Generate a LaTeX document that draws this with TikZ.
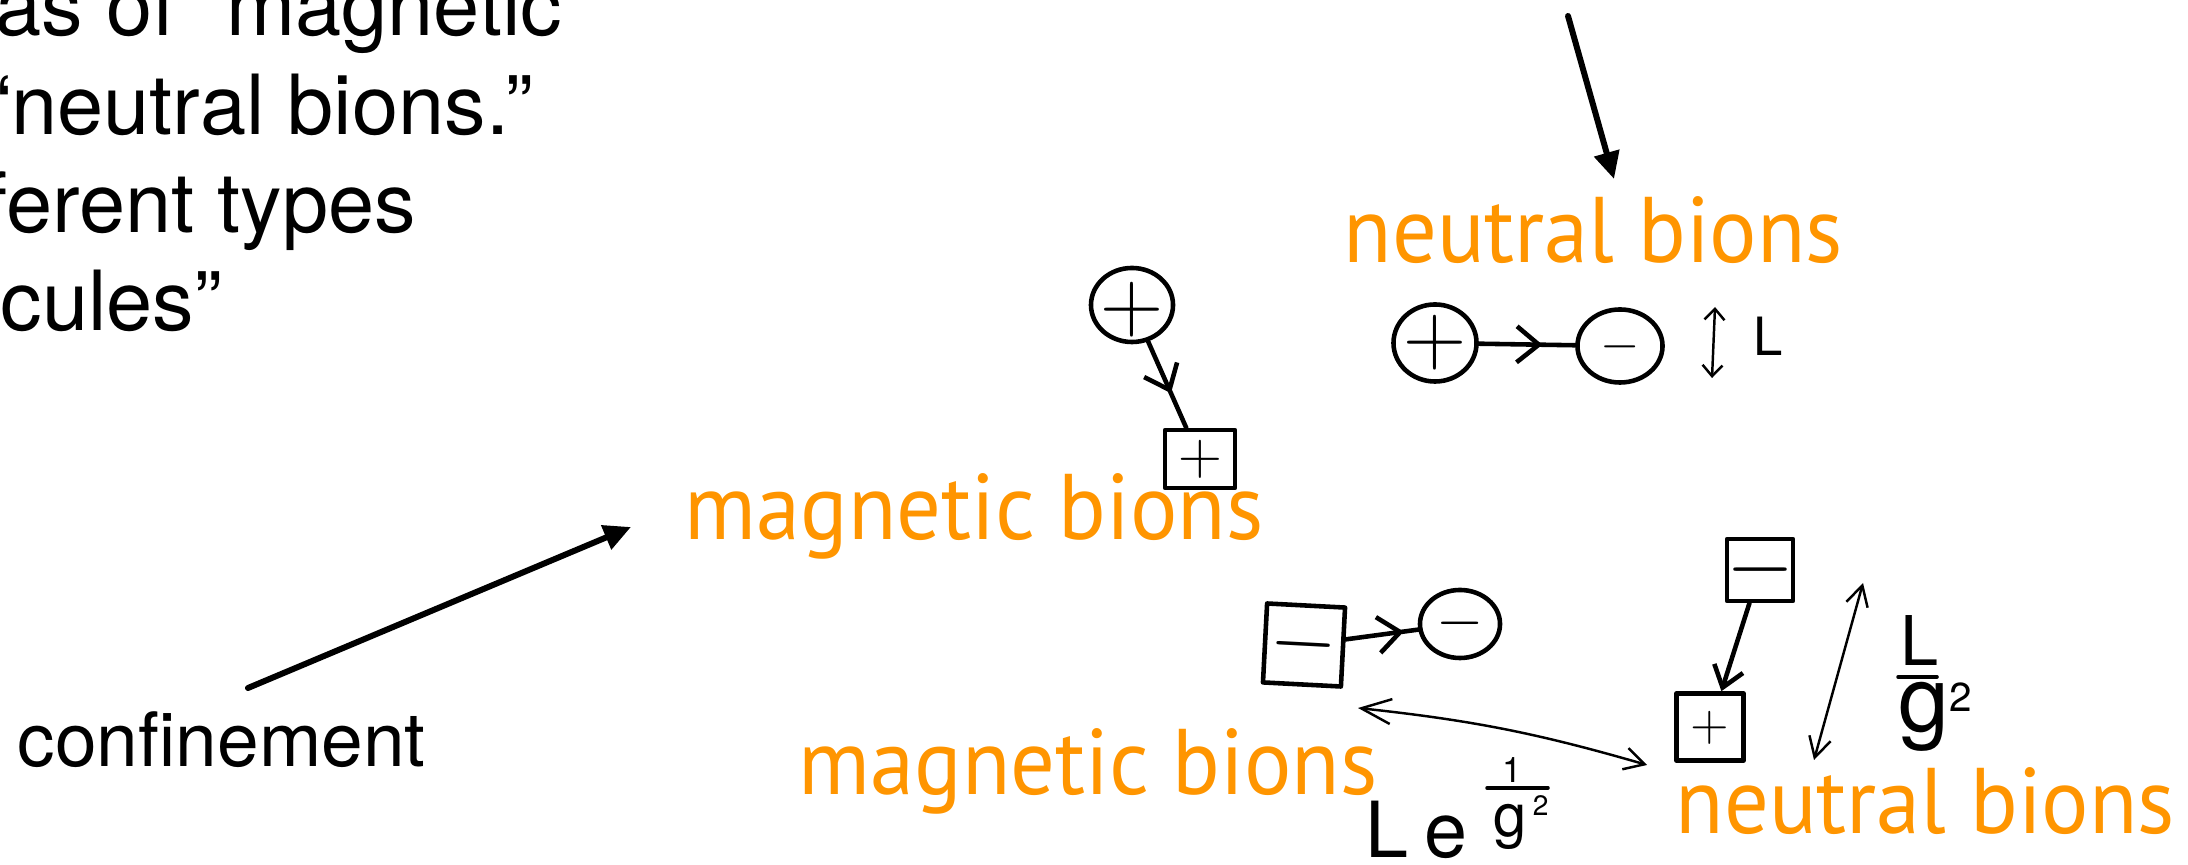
\documentclass[tikz,border=0pt]{standalone}
\usepackage{fontspec}
\setmainfont{TeX Gyre Heros}
\newfontfamily\orfont{PT Sans}[FakeStretch=0.95]
\usetikzlibrary{arrows.meta,shapes.geometric,decorations.markings,calc}
\definecolor{bionorange}{RGB}{255,149,0}
\newcommand{\chg}[1]{\smash{\makebox[0pt]{\raisebox{-0.25em}{$#1$}}}}
\newcommand{\sqpow}[2]{\raisebox{#1}{\fontsize{#2}{#2}\selectfont 2}}
\begin{document}
\begin{tikzpicture}[x=0.01cm,y=-0.01cm,line cap=round,line join=round,
  blk/.style={anchor=base west,inner sep=0pt,font=\fontsize{23.6}{28}\selectfont},
  orl/.style={anchor=base west,inner sep=0pt,text=bionorange,font=\orfont\fontsize{26.5}{30}\selectfont},
  hand/.style={draw,line width=1.3pt},
  circ/.style={hand,ellipse,inner sep=0pt},
  sqr/.style={hand,rectangle,inner sep=0pt},
  bigarrow/.style={line width=1.7pt,-{Triangle[length=0.27cm,width=0.25cm]}},
  midchev/.style={postaction={decorate,decoration={markings,mark=at position #1 with {\arrow[line width=1.3pt]{Straight Barb[length=0.22cm,width=0.36cm]}}}}},
  thinarr/.style={draw,line width=0.7pt},
  math/.style={anchor=base west,inner sep=0pt},
  fracbar/.style={draw,line width=1pt},
]
\useasboundingbox (0,0) rectangle (2188,865);
\clip (0,0) rectangle (2188,865);

% black text (top left, partly cut by the page edge as in the original)
\node[blk] (l1) at (-5,36) {as of “magnetic};
\node[blk] (l2) at (-17,135) {“neutral bions.”};
\node[blk] (l3) at (-16,233) {ferent types};
\node[blk] (l4) at (0,331) {cules”};
\node[blk,font=\fontsize{21.3}{26}\selectfont] (conf) at (17,767) {confinement};

% orange labels
\node[orl] (nb1) at (1343,263) {neutral bions};
\node[orl] (mb1) at (684,540) {magnetic bions};
\node[orl] (mb2) at (798,795) {magnetic bions};
\node[orl] (nb2) at (1675,834) {neutral bions};

% thick pointer arrows
\coordinate (ta) at (1568,16);
\coordinate (tb) at (1614,179);
\draw[bigarrow] (ta) -- (tb);
\coordinate (ca) at (248,688);
\coordinate (cb) at (631,527);
\draw[bigarrow] (ca) -- (cb);

% hand-drawn charges
\node[circ,minimum width=0.82cm,minimum height=0.74cm,font=\fontsize{30}{30}\selectfont] (cp1) at (1132,305) {\chg{+}};
\node[sqr,minimum width=0.70cm,minimum height=0.58cm,font=\fontsize{18}{18}\selectfont] (sp1) at (1200,459) {\chg{+}};
\node[circ,minimum width=0.83cm,minimum height=0.77cm,font=\fontsize{24}{24}\selectfont] (np) at (1435,343) {\chg{+}};
\node[circ,minimum width=0.85cm,minimum height=0.73cm,font=\fontsize{15}{15}\selectfont] (nm) at (1620,346) {\chg{-}};
\node[sqr,minimum width=0.78cm,minimum height=0.79cm,rotate=-3,font=\fontsize{24}{24}\selectfont] (sm1) at (1304,645) {\chg{-}};
\node[circ,minimum width=0.80cm,minimum height=0.68cm,font=\fontsize{17}{17}\selectfont] (cm1) at (1460,624) {\chg{-}};
\node[sqr,minimum width=0.66cm,minimum height=0.62cm,font=\fontsize{25}{25}\selectfont] (sm2) at (1760,570) {\chg{-}};
\node[sqr,minimum width=0.67cm,minimum height=0.67cm,font=\fontsize{15}{15}\selectfont] (sp2) at (1710,727) {\chg{+}};

\draw[hand,midchev=0.6] (cp1) -- (sp1);
\draw[hand,midchev=0.66] (np) -- (nm);
\draw[hand,midchev=0.8] (sm1) -- (cm1);
\draw[hand,-{Straight Barb[length=0.2cm,width=0.3cm]}] (sm2) -- (sp2);

% separation L
\coordinate (sa) at (1715,307);
\coordinate (sb) at (1712,378);
\draw[thinarr,{Straight Barb[length=0.11cm,width=0.2cm]}-{Straight Barb[length=0.11cm,width=0.2cm]}] (sa) -- (sb);
\node[math,font=\fontsize{15}{16}\selectfont] (Ls) at (1753,356) {L};

% separation L e^{1/g^2}
\coordinate (la) at (1358,708);
\coordinate (lb) at (1647,765);
\draw[thinarr,{Straight Barb[length=0.3cm,width=0.25cm]}-{Straight Barb[length=0.2cm,width=0.22cm]}] (la) to[bend left=5] (lb);
\node[math,font=\fontsize{22}{24}\selectfont] (Le) at (1365,858) {L\hspace{0.2em}e};
\node[anchor=base,inner sep=0pt,font=\fontsize{10}{11}\selectfont] (Lnum) at (1512,783) {1};
\coordinate (lbar1) at (1487,788);
\coordinate (lbar2) at (1548,788);
\draw[fracbar] (lbar1) -- (lbar2);
\node[math,font=\fontsize{17}{18}\selectfont] (Lden) at (1493,837) {g\hspace{0.1em}\sqpow{6pt}{8}};

% separation L/g^2
\coordinate (va) at (1863,583);
\coordinate (vb) at (1814,760);
\draw[thinarr,{Straight Barb[length=0.2cm,width=0.22cm]}-{Straight Barb[length=0.2cm,width=0.22cm]}] (va) -- (vb);
\node[math,font=\fontsize{19.5}{22}\selectfont] (gnum) at (1900,666) {L};
\coordinate (gbar1) at (1898,677);
\coordinate (gbar2) at (1937,677);
\draw[fracbar] (gbar1) -- (gbar2);
\node[math,font=\fontsize{26}{28}\selectfont] (gden) at (1898,732) {g\sqpow{5.7pt}{11.5}};
\end{tikzpicture}
\end{document}
